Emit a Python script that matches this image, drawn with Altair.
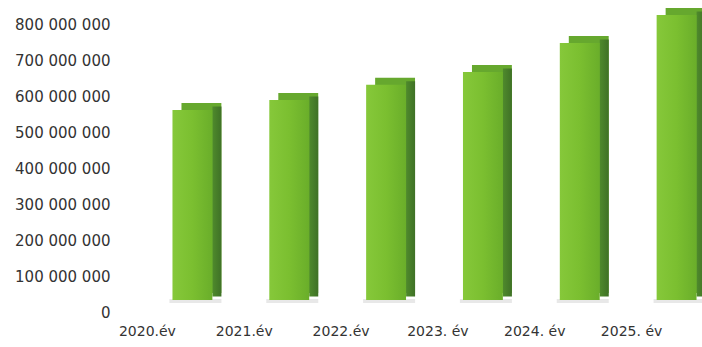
import json
import altair as alt
import pandas as pd

years = ["2020.év", "2021.év", "2022.év", "2023. év", "2024. év", "2025. év"]
values = [561_000_000, 589_000_000, 631_000_000, 667_000_000, 747_000_000, 825_000_000]
tick_values = [0, 100_000_000, 200_000_000, 300_000_000, 400_000_000,
               500_000_000, 600_000_000, 700_000_000, 800_000_000]
tick_labels = ["0", "100 000 000", "200 000 000", "300 000 000", "400 000 000",
               "500 000 000", "600 000 000", "700 000 000", "800 000 000"]

df = pd.DataFrame({"year": years, "value": values})

FONT = "DejaVu Sans"

x_enc = alt.X(
    "year:N", sort=years, title=None,
    scale=alt.Scale(range=[19, 600], paddingInner=0.588, paddingOuter=0.294),
    axis=alt.Axis(labelAngle=0, domain=False, ticks=False, labelOffset=-45,
                  labelPadding=12, labelFont=FONT, labelFontSize=14,
                  labelColor="#333333", labelOverlap=False),
)
y_axis = alt.Axis(values=tick_values, domain=False, ticks=False, grid=False,
                  labelPadding=15, labelFont=FONT, labelFontSize=15,
                  labelColor="#333333", labelOverlap=False,
                  labelExpr=f"{json.dumps(tick_labels)}[round(datum.value / 100000000)]")
y_scale = alt.Scale(domain=[0, 850_000_000], nice=False)
y_enc = alt.Y("value:Q", title=None, scale=y_scale, axis=y_axis)
y2_enc = alt.Y2(datum=0)

cap = alt.Chart(df).mark_bar(color="#66a82e", xOffset=9, yOffset=-7, y2Offset=-19).encode(
    x=x_enc, y=y_enc, y2=y2_enc)
shadow = alt.Chart(df).mark_bar(
    height=4, yOffset=-11, xOffset=3, width=52, color="#e6e6e6", opacity=0.9
).encode(x=x_enc, y=alt.Y(datum=0, title=None, scale=y_scale, axis=y_axis))
side = alt.Chart(df).mark_bar(
    width=9, xOffset=24.5, yOffset=-3.5, y2Offset=-15.5,
    color={"x1": 0, "y1": 0, "x2": 1, "y2": 0, "gradient": "linear",
           "stops": [{"offset": 0, "color": "#4f8a2c"}, {"offset": 1, "color": "#3f7126"}]},
).encode(x=x_enc, y=y_enc, y2=y2_enc)
front = alt.Chart(df).mark_bar(
    y2Offset=-12,
    color={"x1": 0, "y1": 0, "x2": 1, "y2": 0, "gradient": "linear",
           "stops": [{"offset": 0, "color": "#86c83a"}, {"offset": 0.5, "color": "#7bbf30"},
                     {"offset": 1, "color": "#6aae2a"}]},
).encode(x=x_enc, y=y_enc, y2=y2_enc)

chart = alt.layer(cap, shadow, side, front).properties(
    width=577, height=306,
    autosize=alt.AutoSizeParams(type="none"),
    padding={"left": 125, "top": 6, "right": 0, "bottom": 35},
    background="white",
).configure_view(stroke=None).configure_axis(labelOverlap=False)

chart.save("out.html", embed_options={"renderer": "svg", "actions": False})
